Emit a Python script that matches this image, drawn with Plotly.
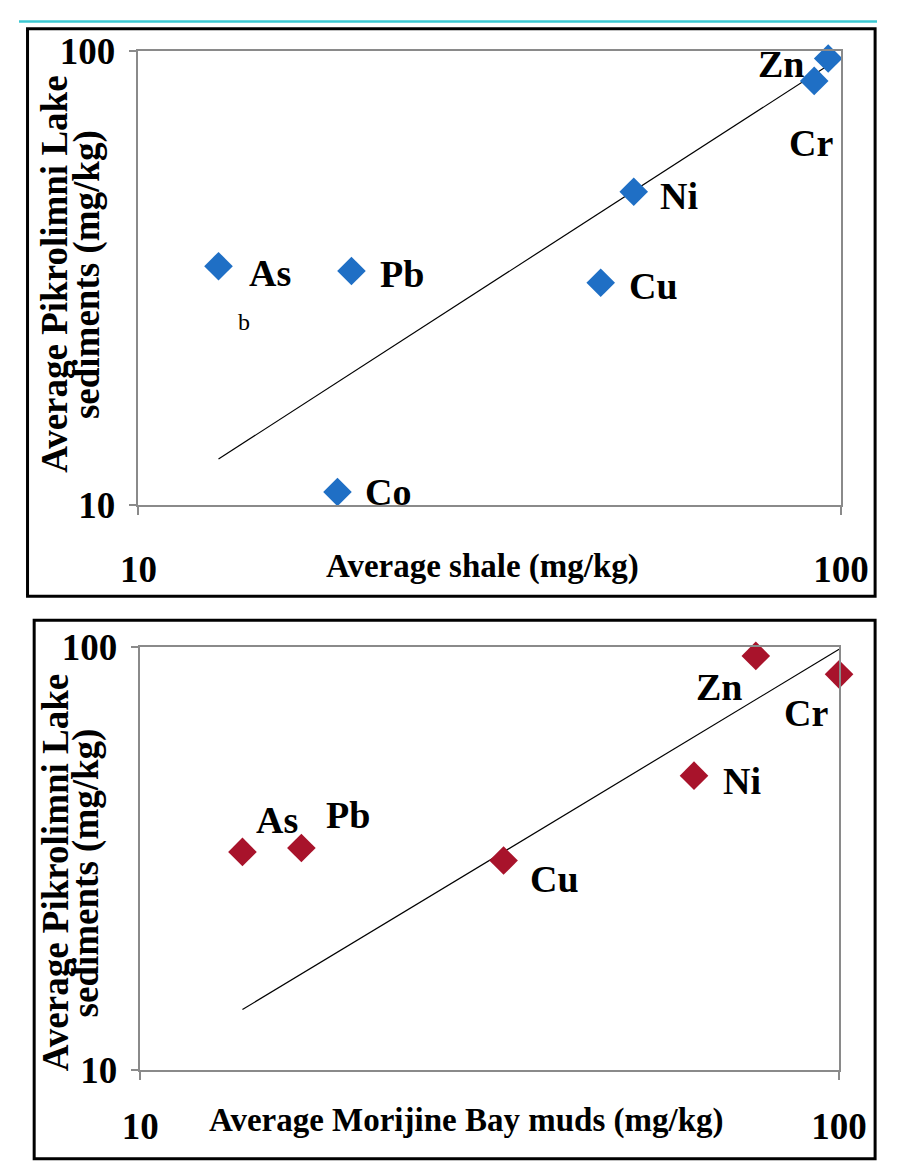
import numpy as np
import plotly.graph_objects as go

# ---------------- data ----------------
elements_a = ["As", "Pb", "Cu", "Ni", "Co", "Zn", "Cr"]
shale = [13.0, 20.1, 45.5, 50.7, 19.2, 95.9, 91.6]
pikrolimni_a = [33.6, 32.8, 30.9, 49.0, 10.7, 96.2, 85.9]
trend_a_x = [13.0, 96.8]
trend_a_y = [12.65, 93.8]

elements_b = ["As", "Pb", "Cu", "Ni", "Zn", "Cr"]
morijine = [14.0, 17.0, 33.1, 62.0, 76.0, 100.0]
pikrolimni_b = [32.8, 33.5, 31.3, 49.7, 95.4, 86.3]
trend_b_x = [14.0, 100.0]
trend_b_y = [13.9, 98.9]

tick_vals = [10, 100]
tick_text = ["10", "100"]

# ---------------- styling ----------------
W, H = 905, 1173
FONT = "Liberation Serif"
BLUE = "#1F6FC5"
RED = "#A8132B"
GRID = "#8a8a8a"

# label offsets (pixels) relative to markers
offs_a = {"As": (51, -7), "Pb": (51, -3), "Cu": (53, -3), "Ni": (45, -4),
          "Co": (51, 0), "Zn": (-47, -5), "Cr": (-3, -62)}
offs_b = {"As": (35, 32), "Pb": (47, 33), "Cu": (51, -18), "Ni": (48, -5),
          "Zn": (-37, -31), "Cr": (-33, -39)}


def px(x):
    return x / W


def py(y):
    return 1 - y / H


fig = go.Figure()

fig.add_trace(go.Scatter(x=trend_a_x, y=trend_a_y, mode="lines",
                         line=dict(color="black", width=1.2),
                         xaxis="x", yaxis="y", showlegend=False, hoverinfo="skip"))
fig.add_trace(go.Scatter(x=shale, y=pikrolimni_a, mode="markers", text=elements_a,
                         marker=dict(symbol="diamond", size=22, color=BLUE, line=dict(width=0)),
                         xaxis="x", yaxis="y", showlegend=False, cliponaxis=False))

fig.add_trace(go.Scatter(x=trend_b_x, y=trend_b_y, mode="lines",
                         line=dict(color="black", width=1.2),
                         xaxis="x2", yaxis="y2", showlegend=False, hoverinfo="skip"))
fig.add_trace(go.Scatter(x=morijine, y=pikrolimni_b, mode="markers", text=elements_b,
                         marker=dict(symbol="diamond", size=22, color=RED, line=dict(width=0)),
                         xaxis="x2", yaxis="y2", showlegend=False, cliponaxis=False))

axis_common = dict(type="log", range=[1, 2], tickvals=tick_vals, ticktext=tick_text,
                   showgrid=False, zeroline=False, showline=True, linecolor=GRID,
                   linewidth=1.5, mirror=True, ticks="outside", ticklen=8,
                   tickcolor=GRID, tickwidth=1.5,
                   tickfont=dict(family=FONT, size=37, color="black", weight="bold"))

fig.update_layout(
    width=W, height=H,
    margin=dict(l=0, r=0, t=0, b=0),
    paper_bgcolor="white", plot_bgcolor="white",
    xaxis=dict(domain=[px(126), px(867)], anchor="y", ticklabelstandoff=22, **axis_common),
    yaxis=dict(domain=[py(503), py(32)], anchor="x", ticklabelstandoff=6, **axis_common),
    xaxis2=dict(domain=[px(128), px(865)], anchor="y2", ticklabelstandoff=15, **axis_common),
    yaxis2=dict(domain=[py(1088), py(650)], anchor="x2", ticklabelstandoff=6, **axis_common),
)

annotations = []
lab_font = dict(family=FONT, size=38, color="black", weight="bold")
for el, xv, yv in zip(elements_a, shale, pikrolimni_a):
    dx, dy = offs_a[el]
    annotations.append(dict(x=np.log10(xv), y=np.log10(yv), xref="x", yref="y", text=el,
                            showarrow=False, xshift=dx, yshift=dy, font=lab_font,
                            xanchor="center", yanchor="middle"))
for el, xv, yv in zip(elements_b, morijine, pikrolimni_b):
    dx, dy = offs_b[el]
    annotations.append(dict(x=np.log10(xv), y=np.log10(yv), xref="x2", yref="y2", text=el,
                            showarrow=False, xshift=dx, yshift=dy, font=lab_font,
                            xanchor="center", yanchor="middle"))

title_font = dict(family=FONT, size=33, color="black", weight="bold")
ytitle_font = dict(family=FONT, size=37, color="black", weight="bold")
# x titles
annotations.append(dict(x=px(489), y=py(566), xref="paper", yref="paper",
                        text="Average shale (mg/kg)", showarrow=False, font=title_font,
                        xanchor="center", yanchor="middle"))
annotations.append(dict(x=px(471), y=py(1140), xref="paper", yref="paper",
                        text="Average Morijine Bay muds (mg/kg)", showarrow=False, font=title_font,
                        xanchor="center", yanchor="middle"))
# y titles (two lines each)
for yc in (264, 884):
    annotations.append(dict(x=px(38), y=py(yc), xref="paper", yref="paper",
                            text="Average Pikrolimni Lake", textangle=-90,
                            showarrow=False, font=ytitle_font,
                            xanchor="center", yanchor="middle"))
    annotations.append(dict(x=px(71), y=py(yc), xref="paper", yref="paper",
                            text="sediments (mg/kg)", textangle=-90,
                            showarrow=False, font=ytitle_font,
                            xanchor="center", yanchor="middle"))
# small "b" mark
annotations.append(dict(x=px(237), y=py(313), xref="paper", yref="paper", text="b",
                        showarrow=False, font=dict(family=FONT, size=24, color="black"),
                        xanchor="center", yanchor="middle"))

fig.update_layout(annotations=annotations)

shapes = [
    dict(type="line", xref="paper", yref="paper", x0=0, x1=1, y0=py(1.5), y1=py(1.5),
         line=dict(color="#3CC8D2", width=2.5)),
    dict(type="rect", xref="paper", yref="paper", x0=px(9), x1=px(903), y0=py(597), y1=py(9),
         line=dict(color="black", width=3)),
    dict(type="rect", xref="paper", yref="paper", x0=px(16), x1=px(903), y0=py(1180), y1=py(622),
         line=dict(color="black", width=3)),
]
fig.update_layout(shapes=shapes)

fig.write_html("out.html", config={"displayModeBar": False},
               post_script="document.body.style.margin='0';document.body.style.overflow='hidden';")
